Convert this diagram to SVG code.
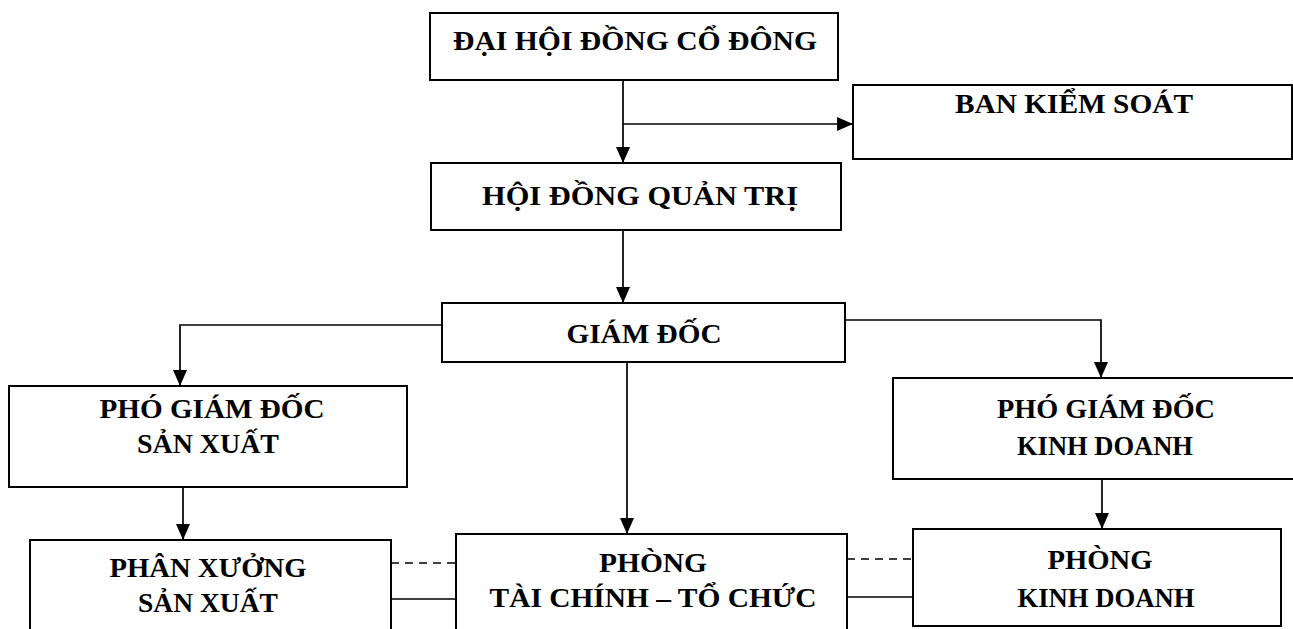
<svg xmlns="http://www.w3.org/2000/svg" width="1293" height="629" viewBox="0 0 1293 629">
<defs>
<marker id="ah" markerUnits="userSpaceOnUse" markerWidth="17" markerHeight="15" refX="16" refY="7" orient="auto">
<path d="M0,0 L16,7 L0,14 Z" fill="#000"/>
</marker>
<style>
.box{fill:#fff;stroke:#000;stroke-width:2}
.t{font-family:"Liberation Serif","Times New Roman",serif;font-weight:bold;font-size:27px;fill:#000;text-anchor:middle}
.c{fill:none;stroke:#000;stroke-width:1.7}
.d{fill:none;stroke:#000;stroke-width:1.7;stroke-dasharray:8 6}
.a{marker-end:url(#ah)}
</style>
</defs>
<rect width="1293" height="629" fill="#fff"/>
<g id="connectors">
<path class="c a" d="M623,80 V163"/>
<path class="c a" d="M623,124 H853"/>
<path class="c a" d="M623,230 V303"/>
<path class="c a" d="M442,325 H180 V386"/>
<path class="c a" d="M845,320 H1101 V378"/>
<path class="c a" d="M627,362 V534"/>
<path class="c a" d="M183,487 V540"/>
<path class="c a" d="M1102,479 V529"/>
<path class="d" d="M391,563 H456"/>
<path class="c" d="M391,599 H456"/>
<path class="d" d="M847,559 H913"/>
<path class="c" d="M847,597 H913"/>
</g>
<g id="dhdcd">
<rect class="box" x="430" y="13" width="408" height="67"/>
<text class="t" x="635" y="50" textLength="364" lengthAdjust="spacingAndGlyphs">ĐẠI HỘI ĐỒNG CỔ ĐÔNG</text>
</g>
<g id="bks">
<rect class="box" x="853" y="85" width="439" height="74"/>
<text class="t" x="1074" y="113" textLength="238" lengthAdjust="spacingAndGlyphs">BAN KIỂM SOÁT</text>
</g>
<g id="hdqt">
<rect class="box" x="431" y="163" width="410" height="67"/>
<text class="t" x="640" y="205" textLength="316" lengthAdjust="spacingAndGlyphs">HỘI ĐỒNG QUẢN TRỊ</text>
</g>
<g id="gd">
<rect class="box" x="442" y="303" width="403" height="59"/>
<text class="t" x="644" y="343" textLength="155" lengthAdjust="spacingAndGlyphs">GIÁM ĐỐC</text>
</g>
<g id="pgdsx">
<rect class="box" x="9" y="386" width="398" height="101"/>
<text class="t" x="212" y="418" textLength="225" lengthAdjust="spacingAndGlyphs">PHÓ GIÁM ĐỐC</text>
<text class="t" x="208" y="453" textLength="142" lengthAdjust="spacingAndGlyphs">SẢN XUẤT</text>
</g>
<g id="pgdkd">
<rect class="box" x="893" y="378" width="402" height="101"/>
<text class="t" x="1106" y="418" textLength="218" lengthAdjust="spacingAndGlyphs">PHÓ GIÁM ĐỐC</text>
<text class="t" x="1105" y="455" textLength="176" lengthAdjust="spacingAndGlyphs">KINH DOANH</text>
</g>
<g id="pxsx">
<rect class="box" x="30" y="540" width="361" height="100"/>
<text class="t" x="208" y="577" textLength="197" lengthAdjust="spacingAndGlyphs">PHÂN XƯỞNG</text>
<text class="t" x="208" y="612" textLength="140" lengthAdjust="spacingAndGlyphs">SẢN XUẤT</text>
</g>
<g id="ptctc">
<rect class="box" x="456" y="534" width="391" height="106"/>
<text class="t" x="653" y="572" textLength="108" lengthAdjust="spacingAndGlyphs">PHÒNG</text>
<text class="t" x="653" y="607" textLength="327" lengthAdjust="spacingAndGlyphs">TÀI CHÍNH – TỔ CHỨC</text>
</g>
<g id="pkd">
<rect class="box" x="913" y="529" width="368" height="97"/>
<text class="t" x="1100" y="569" textLength="105" lengthAdjust="spacingAndGlyphs">PHÒNG</text>
<text class="t" x="1106" y="607" textLength="177" lengthAdjust="spacingAndGlyphs">KINH DOANH</text>
</g>
</svg>
